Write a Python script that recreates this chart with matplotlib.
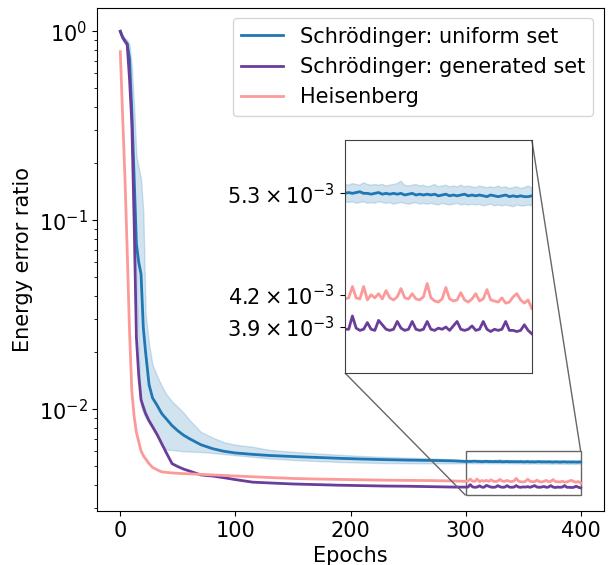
import numpy as np
import matplotlib
matplotlib.use("Agg")
import matplotlib.pyplot as plt
from matplotlib.ticker import NullLocator
from mpl_toolkits.axes_grid1.inset_locator import mark_inset

plt.rcParams["font.size"] = 15

# epochs before the zoomed window (coarse), then every 2 epochs from 300 to 400
epochs_early = [0, 2, 4, 6, 8, 10, 12, 14, 16, 18, 20, 22, 25, 28, 32, 36, 40, 45, 50, 55,
                60, 70, 80, 90, 100, 115, 130, 150, 170, 190, 210, 230, 250, 270, 290]
epochs_late = list(range(300, 401, 2))

# Schrodinger: uniform set (mean and spread band)
uniform_early = [1.0, 0.93, 0.89, 0.86, 0.72, 0.38, 0.17, 0.075, 0.06, 0.052, 0.027, 0.020, 0.0135,
                 0.0115, 0.0105, 0.0095, 0.0089, 0.0082, 0.0077, 0.0073, 0.0070, 0.0065, 0.0062,
                 0.0060, 0.00588, 0.00578, 0.0057, 0.00563, 0.00557, 0.00551, 0.00546, 0.00542,
                 0.00539, 0.00537, 0.00534]
uniform_hi_early = [1.0, 0.95, 0.92, 0.9, 0.85, 0.65, 0.4, 0.22, 0.19, 0.165, 0.11, 0.032, 0.022,
                    0.0172, 0.015, 0.0133, 0.012, 0.011, 0.0103, 0.0096, 0.0088, 0.0076, 0.0071,
                    0.0067, 0.0065, 0.00634, 0.0061, 0.00597, 0.00585, 0.00575, 0.00567, 0.0056,
                    0.00555, 0.0055, 0.00543]
uniform_lo_early = [1.0, 0.9, 0.86, 0.82, 0.55, 0.3, 0.12, 0.05, 0.02, 0.0104, 0.0096, 0.009,
                    0.00846, 0.0079, 0.00716, 0.00652, 0.00613, 0.0061, 0.00605, 0.006, 0.00598,
                    0.00595, 0.00588, 0.0058, 0.00572, 0.00561, 0.0055, 0.0054, 0.00533, 0.00527,
                    0.00523, 0.0052, 0.00519, 0.00518, 0.00518]
# late values in units of 1e-3
uniform_late = [5.30, 5.31, 5.30, 5.31, 5.32, 5.30, 5.30, 5.29, 5.30, 5.31,
                5.29, 5.30, 5.29, 5.30, 5.29, 5.30, 5.28, 5.29, 5.30, 5.28,
                5.29, 5.28, 5.29, 5.28, 5.29, 5.27, 5.28, 5.29, 5.27, 5.28,
                5.27, 5.28, 5.29, 5.27, 5.28, 5.27, 5.28, 5.27, 5.26, 5.28,
                5.27, 5.26, 5.27, 5.28, 5.26, 5.27, 5.26, 5.27, 5.26, 5.26, 5.27]
uniform_hi_late = [5.41, 5.40, 5.42, 5.41, 5.40, 5.43, 5.41, 5.40, 5.41, 5.40,
                   5.41, 5.39, 5.40, 5.41, 5.42, 5.45, 5.40, 5.39, 5.40, 5.41,
                   5.39, 5.40, 5.38, 5.39, 5.41, 5.38, 5.39, 5.40, 5.38, 5.39,
                   5.38, 5.40, 5.38, 5.39, 5.38, 5.37, 5.39, 5.38, 5.37, 5.38,
                   5.37, 5.39, 5.37, 5.38, 5.36, 5.37, 5.38, 5.36, 5.37, 5.39, 5.37]
uniform_lo_late = [5.20, 5.19, 5.20, 5.18, 5.19, 5.20, 5.18, 5.19, 5.18, 5.20,
                   5.19, 5.18, 5.19, 5.17, 5.18, 5.19, 5.18, 5.17, 5.18, 5.19,
                   5.17, 5.18, 5.17, 5.18, 5.17, 5.16, 5.18, 5.17, 5.16, 5.17,
                   5.18, 5.16, 5.17, 5.16, 5.17, 5.16, 5.17, 5.15, 5.16, 5.17,
                   5.15, 5.16, 5.15, 5.16, 5.15, 5.14, 5.16, 5.15, 5.15, 5.16, 5.15]

# Schrodinger: generated set
generated_early = [1.0, 0.93, 0.89, 0.85, 0.56, 0.33, 0.10, 0.024, 0.0152, 0.01125, 0.0103, 0.0095,
                   0.0087, 0.0081, 0.00736, 0.00658, 0.00589, 0.00516, 0.00498, 0.00483, 0.00472,
                   0.0045, 0.00444, 0.00435, 0.00425, 0.00412, 0.00408, 0.00403, 0.0040, 0.00397,
                   0.00395, 0.00393, 0.00392, 0.0039, 0.00388]
generated_late = [3.88, 3.88, 4.00, 3.89, 3.87, 3.88, 3.94, 3.88, 3.87, 3.96,
                  3.92, 3.88, 3.87, 3.88, 3.95, 3.89, 3.87, 3.88, 3.95, 3.88,
                  3.87, 3.88, 3.95, 3.88, 3.87, 3.89, 3.88, 3.90, 3.87, 3.91,
                  3.95, 3.88, 3.87, 3.88, 3.91, 3.87, 3.88, 3.95, 3.88, 3.86,
                  3.88, 3.87, 3.88, 3.95, 3.87, 3.87, 3.86, 3.87, 3.92, 3.87, 3.84]

# Heisenberg
heisenberg_early = [0.78, 0.36, 0.17, 0.0687, 0.026, 0.0125, 0.0092, 0.00755, 0.00675, 0.00603,
                    0.00569, 0.00547, 0.00516, 0.00493, 0.00479, 0.00467, 0.00464, 0.00461,
                    0.00459, 0.00457, 0.00456, 0.00453, 0.0045, 0.00447, 0.00444, 0.0044, 0.00436,
                    0.00431, 0.00428, 0.00426, 0.00424, 0.00422, 0.00421, 0.0042, 0.00418]
heisenberg_late = [4.16, 4.17, 4.28, 4.17, 4.16, 4.28, 4.15, 4.20, 4.17, 4.21,
                   4.16, 4.24, 4.17, 4.15, 4.18, 4.26, 4.17, 4.16, 4.21, 4.16,
                   4.15, 4.18, 4.31, 4.17, 4.14, 4.13, 4.16, 4.27, 4.16, 4.14,
                   4.15, 4.22, 4.15, 4.13, 4.16, 4.21, 4.14, 4.16, 4.25, 4.15,
                   4.14, 4.13, 4.17, 4.12, 4.13, 4.18, 4.21, 4.15, 4.12, 4.15, 4.07]

inset_ticks = [5.3e-3, 4.2e-3, 3.9e-3]
inset_labels = [r"$5.3\times10^{-3}$", r"$4.2\times10^{-3}$", r"$3.9\times10^{-3}$"]

epochs = np.array(epochs_early + epochs_late)
uni = np.concatenate([uniform_early, np.array(uniform_late) * 1e-3])
uni_hi = np.concatenate([uniform_hi_early, np.array(uniform_hi_late) * 1e-3])
uni_lo = np.concatenate([uniform_lo_early, np.array(uniform_lo_late) * 1e-3])
gen = np.concatenate([generated_early, np.array(generated_late) * 1e-3])
hei = np.concatenate([heisenberg_early, np.array(heisenberg_late) * 1e-3])

c_uni = "#1f77b4"
c_gen = "#6a3d9a"
c_hei = "#fb9a99"

fig, ax = plt.subplots(figsize=(6.08, 5.65), dpi=100)
fig.subplots_adjust(left=0.160, right=0.993, bottom=0.0956, top=0.986)


def draw(a):
    a.fill_between(epochs, uni_lo, uni_hi, color=c_uni, alpha=0.2)
    a.plot(epochs, uni, color=c_uni, lw=2, label="Schrödinger: uniform set")
    a.plot(epochs, gen, color=c_gen, lw=2, label="Schrödinger: generated set")
    a.plot(epochs, hei, color=c_hei, lw=2, label="Heisenberg")


draw(ax)
ax.set_yscale("log")
ax.set_xlim(-20, 420)
ax.set_ylim(0.0029, 1.33)
ax.set_xticks([0, 100, 200, 300, 400])
ax.set_xlabel("Epochs")
ax.set_ylabel("Energy error ratio")
ax.legend(loc="upper right")

axins = ax.inset_axes([0.489, 0.2744, 0.369, 0.463])
draw(axins)
axins.set_yscale("log")
axins.set_xlim(300, 400)
axins.set_ylim(0.00351, 0.00599)
axins.set_xticks([])
axins.yaxis.set_minor_locator(NullLocator())
axins.set_yticks(inset_ticks)
axins.set_yticklabels(inset_labels)
for s in axins.spines.values():
    s.set_edgecolor("0.25")
mark_inset(ax, axins, loc1=1, loc2=3, fc="none", ec="0.4")

fig.savefig("out.png", dpi=100)
